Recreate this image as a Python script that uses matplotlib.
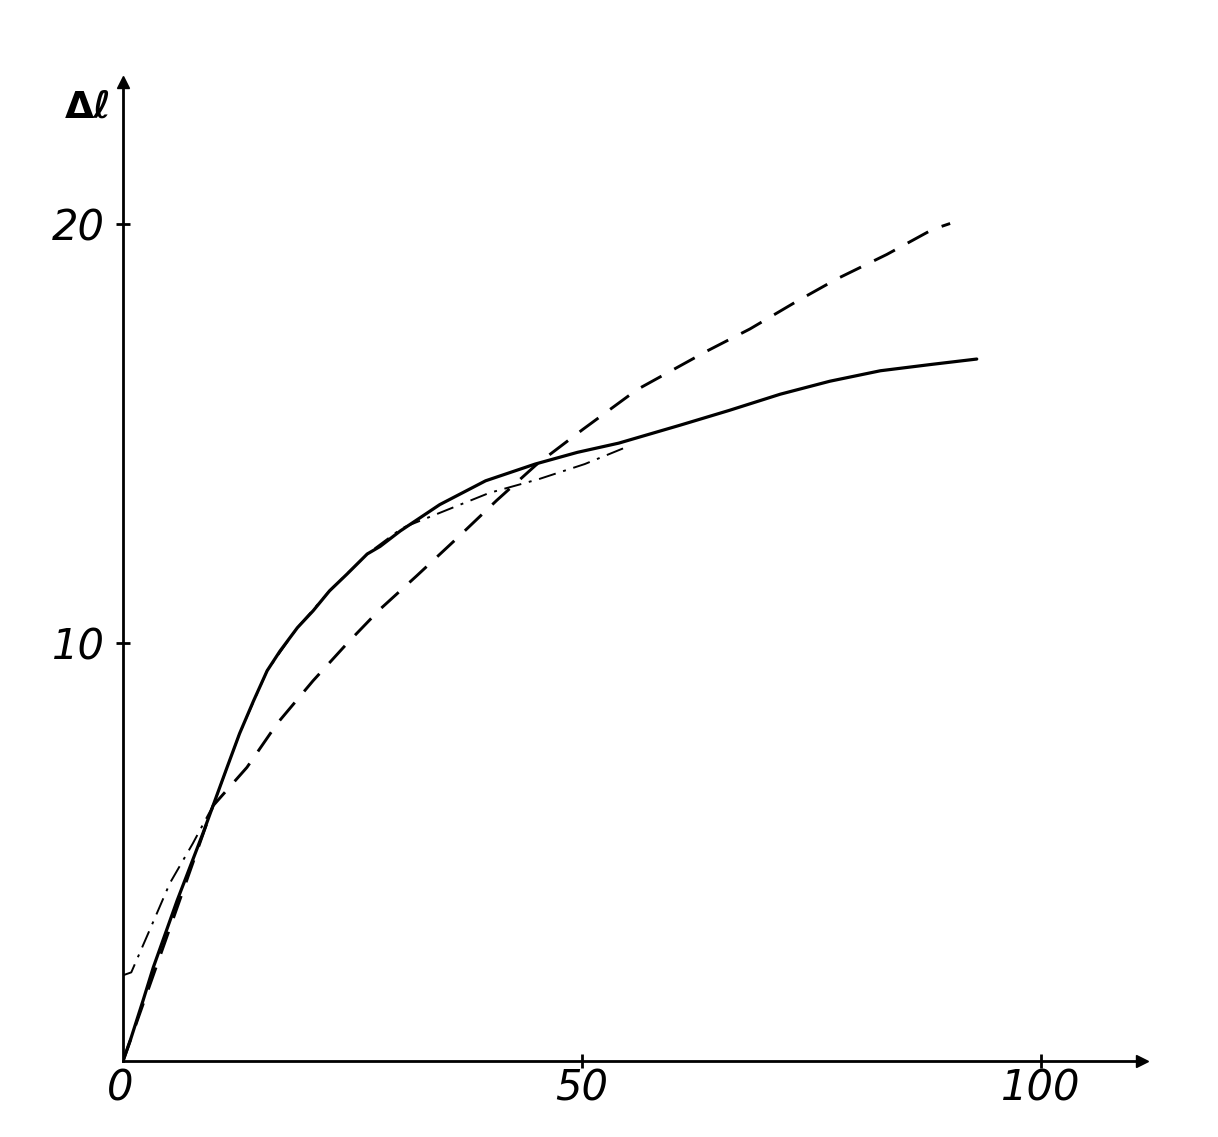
import matplotlib.pyplot as plt

# solid curve (measured)
x_solid = [0, 0.8, 2.2, 3.3, 5.9, 8.7, 9.8, 11.3, 12.7, 14.2, 15.7, 17.1, 19.0, 20.7,
           22.5, 24.4, 26.6, 28.0, 30.2, 34.5, 39.5, 44.9, 49.5, 54.0, 60.7, 66.0,
           71.6, 77.0, 82.5, 88.0, 93.0]
y_solid = [0, 0.5, 1.46, 2.24, 3.84, 5.44, 6.1, 7.0, 7.83, 8.6, 9.33, 9.8, 10.36, 10.76,
           11.24, 11.64, 12.12, 12.3, 12.67, 13.3, 13.87, 14.27, 14.55, 14.77, 15.2, 15.55,
           15.94, 16.25, 16.5, 16.65, 16.78]

# dashed curve
x_dash = [0, 9.8, 13.5, 16.8, 20.7, 24.4, 28.0, 32.0, 36.4, 40.7, 45.0, 50.1,
          56.0, 63.6, 68.3, 73.4, 77.8, 83.2, 88.2, 90.1]
y_dash = [0, 6.1, 7.02, 8.07, 9.09, 9.98, 10.8, 11.6, 12.5, 13.4, 14.25, 15.1,
          16.05, 16.97, 17.5, 18.16, 18.7, 19.28, 19.88, 20.02]

# dash-dot curve
x_dd = [0, 0.9, 2.9, 5.1, 7.6, 9.8, 12.7, 15.7, 19.0, 22.5, 26.6, 30.4,
        33.9, 39.9, 45.3, 50.3, 55.1]
y_dd = [2.05, 2.12, 3.13, 4.25, 5.2, 6.1, 7.83, 9.33, 10.36, 11.24, 12.12, 12.74,
        13.05, 13.58, 13.91, 14.27, 14.7]

x_ticks = [0, 50, 100]
y_ticks = [10, 20]

fig = plt.figure(figsize=(12.18, 11.37), dpi=100)
ax = fig.add_axes([0.101, 0.0668, 0.8366, 0.861])
xmax, ymax = 111, 23.4
ax.set_xlim(0, xmax)
ax.set_ylim(0, ymax)

ax.plot(x_solid, y_solid, color='black', lw=2.3, solid_capstyle='round', solid_joinstyle='round')
ax.plot(x_dash, y_dash, color='black', lw=2.1, dashes=(8, 5))
ax.plot(x_dd, y_dd, color='black', lw=1.4, dashes=(9, 4, 1.5, 4))

for s in ['top', 'right']:
    ax.spines[s].set_visible(False)
for s in ['left', 'bottom']:
    ax.spines[s].set_linewidth(2.0)

# arrow heads on axes
ax.plot(xmax, 0, marker='>', color='black', markersize=9, clip_on=False)
ax.plot(0, ymax, marker='^', color='black', markersize=9, clip_on=False)

ax.set_xticks(x_ticks[1:])
ax.set_yticks(y_ticks)
ax.set_xticklabels([str(v) for v in x_ticks[1:]])
ax.set_yticklabels([str(v) for v in y_ticks])
ax.tick_params(axis='x', direction='inout', length=10, width=2, labelsize=30, pad=0)
ax.tick_params(axis='y', direction='inout', length=10, width=2, labelsize=30, pad=8)
for lab in ax.get_xticklabels() + ax.get_yticklabels():
    lab.set_fontstyle('italic')
ax.text(-0.3, -0.65, '0', fontsize=30, fontstyle='italic', ha='center', va='center')

ax.text(-1.2, ymax - 0.6, 'Δℓ', fontsize=27, fontweight='bold', ha='right', va='center')

fig.savefig('out.png', dpi=100)
